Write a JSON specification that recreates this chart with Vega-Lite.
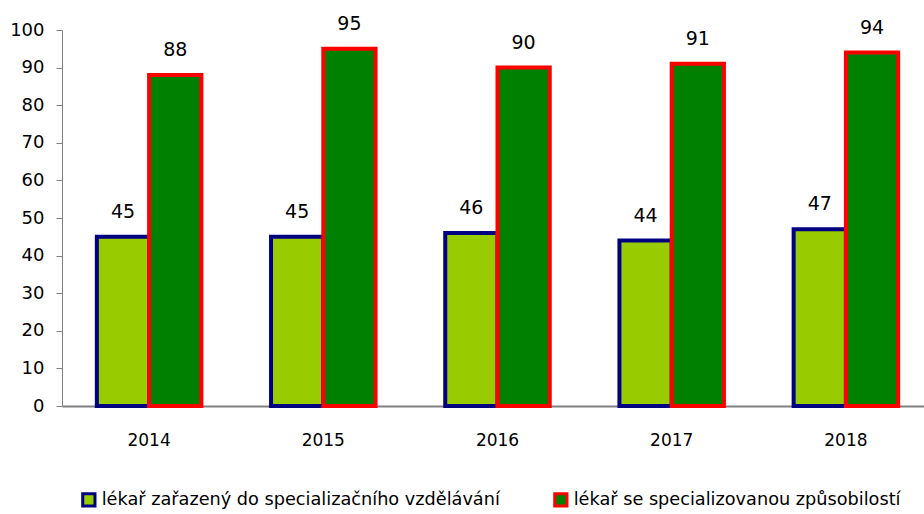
{
  "$schema": "https://vega.github.io/schema/vega-lite/v6.json",
  "width": 871,
  "height": 376,
  "autosize": {"type": "none"},
  "padding": {"left": 62, "top": 30, "right": 0, "bottom": 108},
  "background": "white",
  "config": {"view": {"stroke": null}, "font": "DejaVu Sans"},
  "data": {"values": [
    {"year": "2014", "series": "lékař zařazený do specializačního vzdělávání", "value": 45},
    {"year": "2014", "series": "lékař se specializovanou způsobilostí", "value": 88},
    {"year": "2015", "series": "lékař zařazený do specializačního vzdělávání", "value": 45},
    {"year": "2015", "series": "lékař se specializovanou způsobilostí", "value": 95},
    {"year": "2016", "series": "lékař zařazený do specializačního vzdělávání", "value": 46},
    {"year": "2016", "series": "lékař se specializovanou způsobilostí", "value": 90},
    {"year": "2017", "series": "lékař zařazený do specializačního vzdělávání", "value": 44},
    {"year": "2017", "series": "lékař se specializovanou způsobilostí", "value": 91},
    {"year": "2018", "series": "lékař zařazený do specializačního vzdělávání", "value": 47},
    {"year": "2018", "series": "lékař se specializovanou způsobilostí", "value": 94}
  ]},
  "encoding": {
    "x": {"field": "year", "type": "nominal",
      "scale": {"paddingInner": 0.4, "paddingOuter": 0.2},
      "axis": {"title": null, "labelAngle": 0, "labelFontSize": 17, "labelColor": "black", "labelPadding": 26, "ticks": false, "domainColor": "#808080", "domainWidth": 2}},
    "xOffset": {"field": "series", "type": "nominal", "sort": ["lékař zařazený do specializačního vzdělávání", "lékař se specializovanou způsobilostí"]},
    "y": {"field": "value", "type": "quantitative",
      "scale": {"domain": [0, 100], "nice": false},
      "axis": {"title": null, "values": [0,10,20,30,40,50,60,70,80,90,100], "grid": false, "labelFontSize": 18, "labelColor": "black", "tickColor": "#808080", "tickSize": 6, "domainColor": "#808080", "labelPadding": 12}}
  },
  "layer": [
    {
      "mark": {"type": "bar", "strokeWidth": 4},
      "encoding": {
        "fill": {"field": "series", "type": "nominal",
          "sort": ["lékař zařazený do specializačního vzdělávání", "lékař se specializovanou způsobilostí"],
          "scale": {"domain": ["lékař zařazený do specializačního vzdělávání", "lékař se specializovanou způsobilostí"], "range": ["#99CC00", "#008000"]},
          "legend": {"title": null, "orient": "none", "direction": "horizontal", "legendX": 18, "legendY": 461, "symbolType": "square", "symbolSize": 150, "symbolStrokeWidth": 3, "labelFontSize": 17.7, "labelLimit": 0, "labelColor": "black", "columnPadding": 48, "labelOffset": 4}},
        "stroke": {"field": "series", "type": "nominal",
          "sort": ["lékař zařazený do specializačního vzdělávání", "lékař se specializovanou způsobilostí"],
          "scale": {"domain": ["lékař zařazený do specializačního vzdělávání", "lékař se specializovanou způsobilostí"], "range": ["#000080", "#FF0000"]}}
      }
    },
    {
      "mark": {"type": "text", "baseline": "bottom", "dy": -15, "fontSize": 19, "color": "black"},
      "encoding": {"text": {"field": "value", "type": "quantitative"}}
    }
  ]
}
